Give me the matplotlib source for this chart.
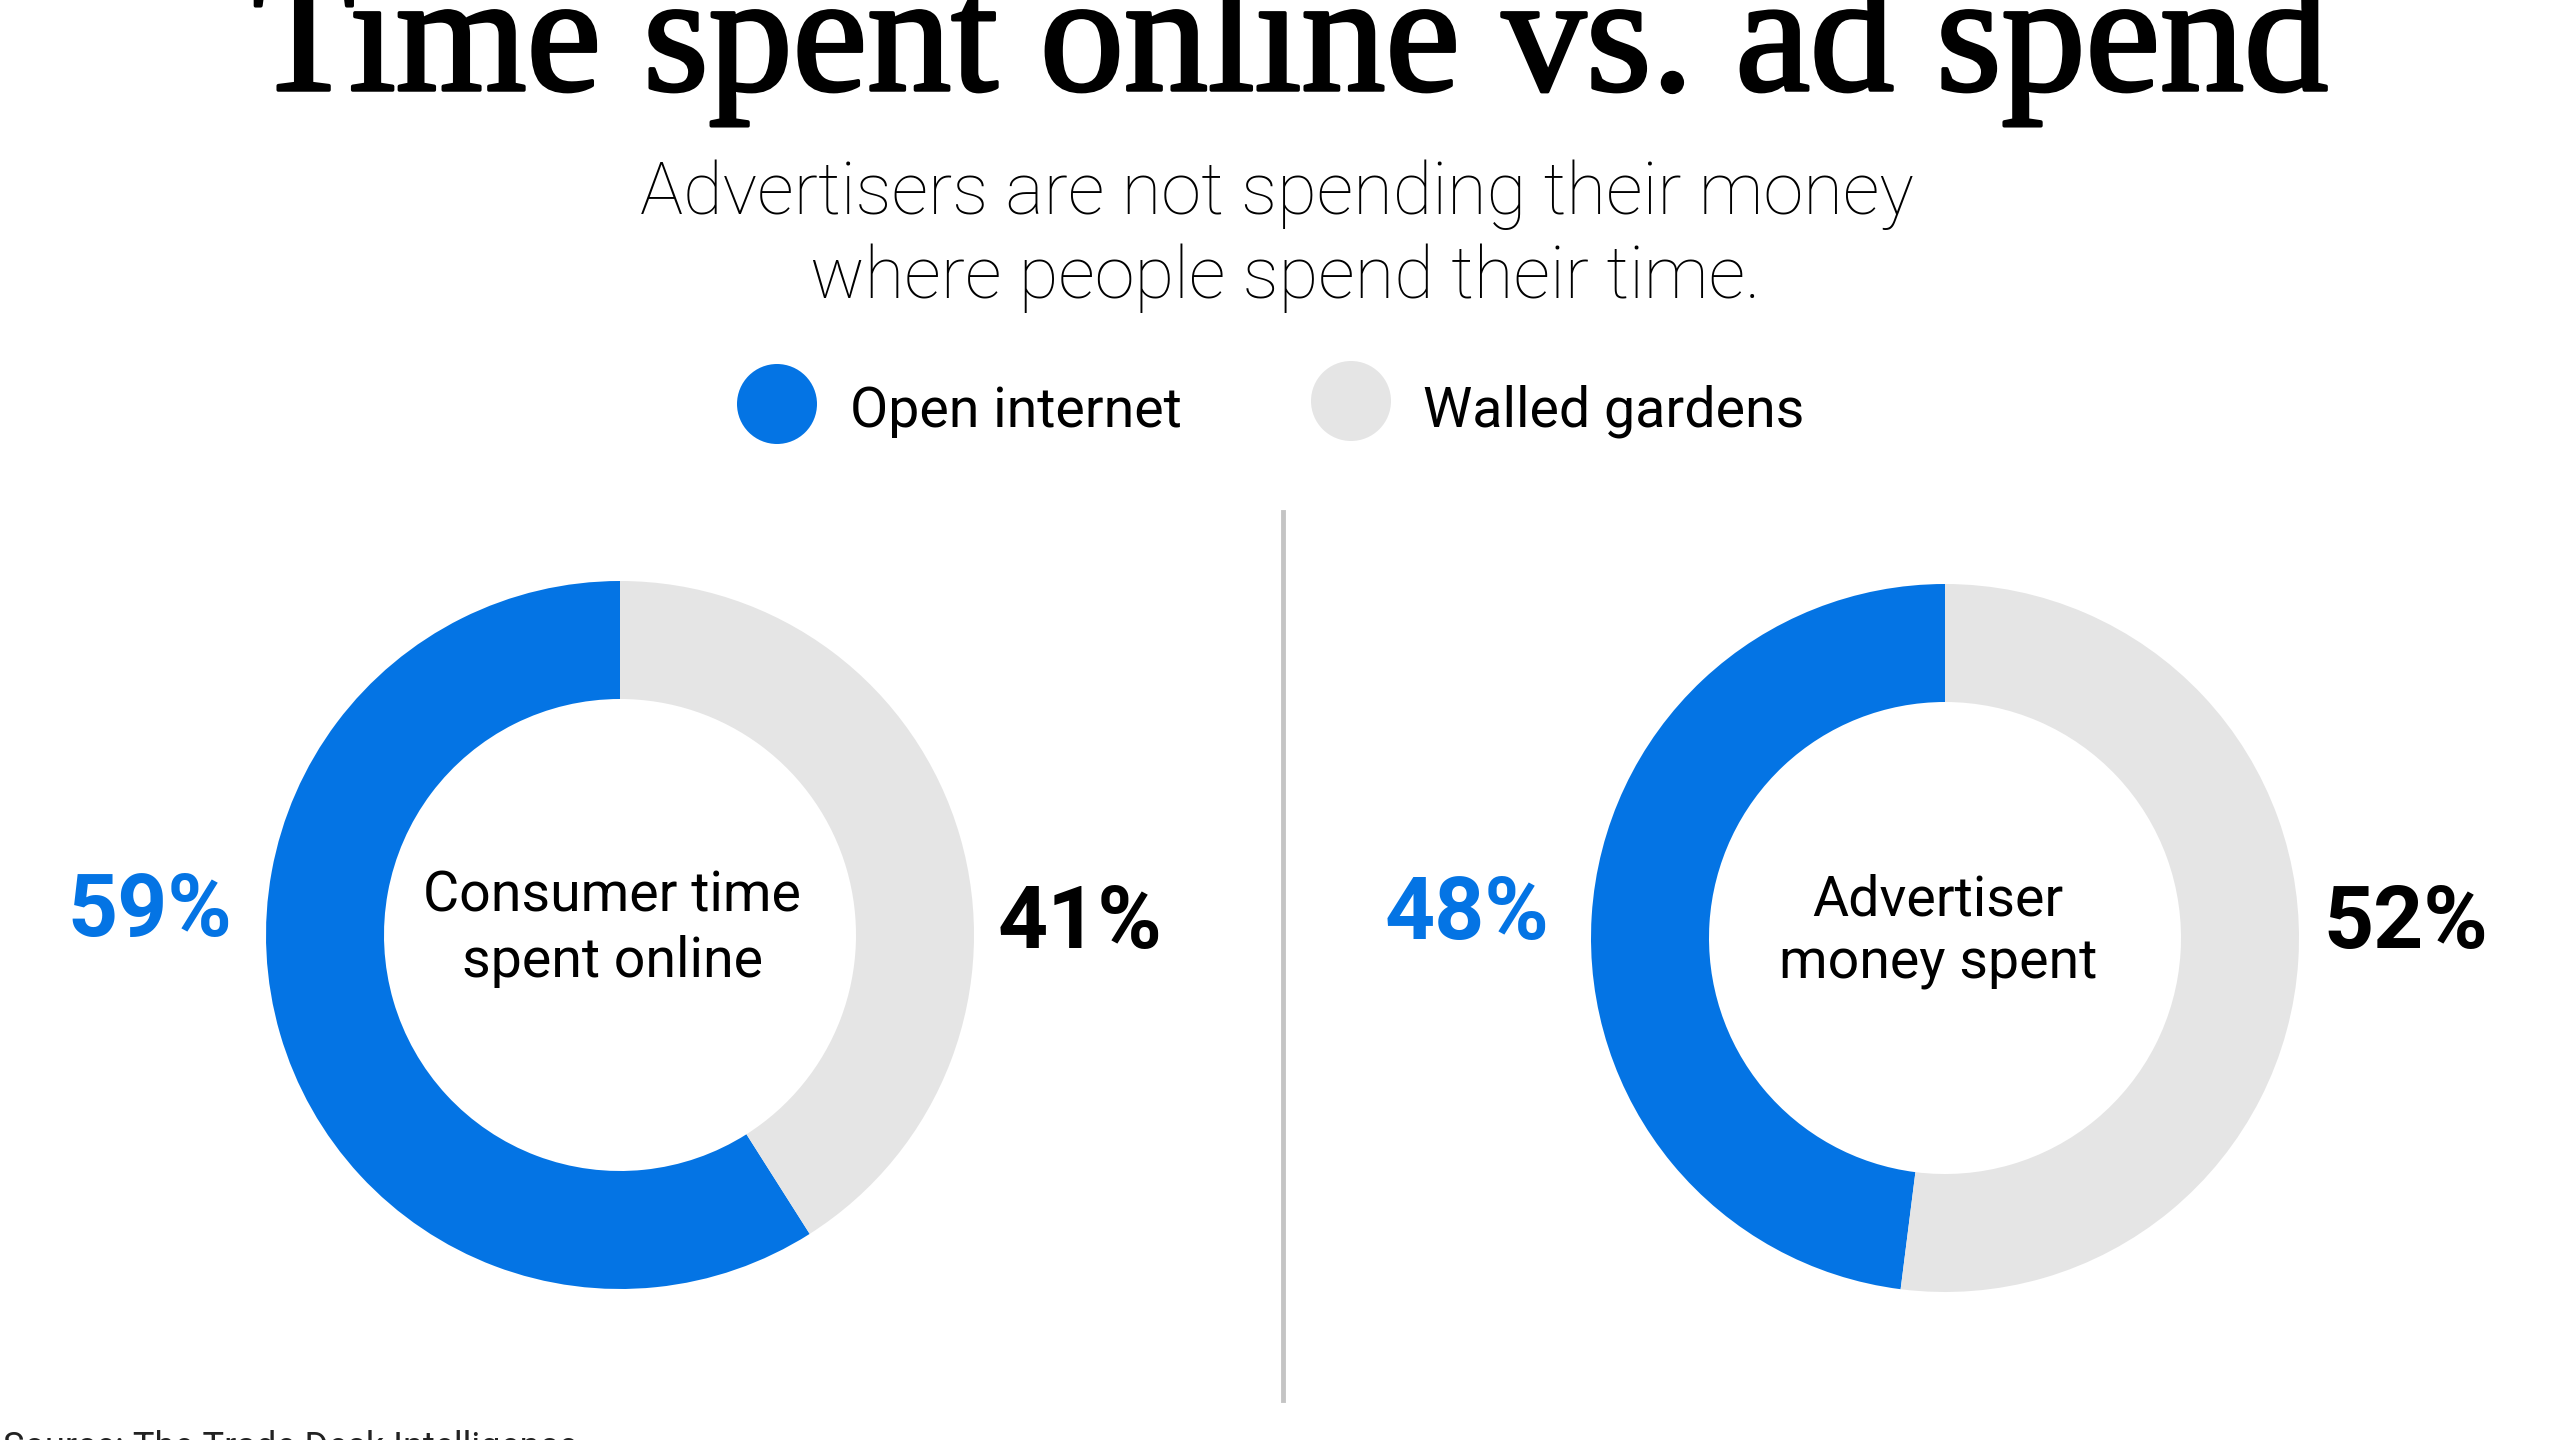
"""
Time spent online vs. ad spend: two donut charts side by side.
"""

import matplotlib
matplotlib.use("Agg")
import matplotlib.pyplot as plt
import matplotlib.patheffects as pe
from matplotlib.patches import Circle

# data
segments = ["Open internet", "Walled gardens"]
time_spent = [59, 41]          # consumer time spent online (%)
money_spent = [48, 52]         # advertiser money spent (%)
centre_labels = [["Consumer time", "spent online"], ["Advertiser", "money spent"]]

BLUE = "#0474E4"
GREY = "#E5E5E5"
SANS = "Roboto"
H = 1440                       # figure height in px, y is measured from top


def y(px):
    """ convert a y position measured from the top into axes coords """
    return H - px


fig = plt.figure(figsize=(25.6, 14.4), dpi=100)
ax = fig.add_axes([0, 0, 1, 1])

# donuts
donuts = [
    (time_spent, (620, 935), (150, 912), (1080, 924), centre_labels[0], (612, 912, 977)),
    (money_spent, (1945, 938), (1467, 915), (2406, 924), centre_labels[1], (1938, 915, 979)),
]
R_OUT, R_IN = 354, 236
for values, (cx, cy), lpos, rpos, ctext, (tx, b1, b2) in donuts:
    ax.pie(values, colors=[BLUE, GREY], startangle=90, counterclock=True,
           center=(cx, y(cy)), radius=R_OUT,
           wedgeprops=dict(width=R_OUT - R_IN, linewidth=0))
    ax.text(lpos[0], y(lpos[1]), f"{values[0]}%", color=BLUE, fontsize=63,
            fontweight="bold", family=SANS, ha="center", va="center")
    ax.text(rpos[0], y(rpos[1]), f"{values[1]}%", color="black", fontsize=63,
            fontweight="bold", family=SANS, ha="center", va="center")
    for line, base in zip(ctext, (b1, b2)):
        ax.text(tx, y(base), line, color="black", fontsize=40,
                family=SANS, ha="center", va="baseline")

ax.set_xlim(0, 2560)
ax.set_ylim(0, H)
ax.set_aspect("equal")
ax.axis("off")

# divider
ax.plot([1283, 1283], [y(512), y(1400)], color="#C4C4C4", linewidth=3.5)

# title and subtitle
ax.text(1290, y(90), "Time spent online vs. ad spend", family="Liberation Serif",
        fontsize=121, ha="center", va="baseline", color="black",
        path_effects=[pe.withStroke(linewidth=2.5, foreground="black")])
ax.text(1277, y(214), "Advertisers are not spending their money", family=SANS,
        fontweight="light", fontsize=52, ha="center", va="baseline")
ax.text(1285, y(298), "where people spend their time.", family=SANS,
        fontweight="light", fontsize=52, ha="center", va="baseline")

# legend
for (cx, cy), tx, name, col in [((777, 404), 850, segments[0], BLUE),
                                 ((1351, 401), 1423, segments[1], GREY)]:
    ax.add_patch(Circle((cx, y(cy)), 40, color=col, linewidth=0))
    ax.text(tx, y(427), name, family=SANS, fontsize=40, ha="left", va="baseline")

# source, cut off at the bottom edge
ax.text(3, y(1458), "Source: The Trade Desk Intelligence", family=SANS,
        fontsize=26, ha="left", va="baseline", color="#222222")

fig.savefig("out.png", dpi=100, facecolor="white")
